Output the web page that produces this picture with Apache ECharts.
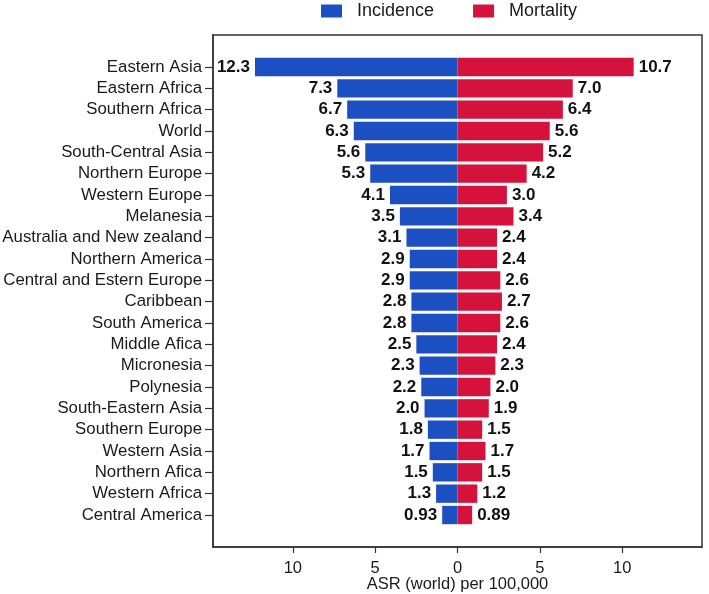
<!DOCTYPE html>
<html>
<head>
<meta charset="utf-8">
<script src="https://cdn.jsdelivr.net/npm/echarts@6/dist/echarts.min.js"></script>
<style>html,body{margin:0;padding:0;background:#fff;}#c{width:709px;height:594px;}</style>
</head>
<body>
<div id="c"></div>
<script>
const regions = ['Eastern Asia','Eastern Africa','Southern Africa','World','South-Central Asia','Northern Europe','Western Europe','Melanesia','Australia and New zealand','Northern America','Central and Estern Europe','Caribbean','South America','Middle Afica','Micronesia','Polynesia','South-Eastern Asia','Southern Europe','Western Asia','Northern Afica','Western Africa','Central America'];
const incidence = [12.3,7.3,6.7,6.3,5.6,5.3,4.1,3.5,3.1,2.9,2.9,2.8,2.8,2.5,2.3,2.2,2.0,1.8,1.7,1.5,1.3,0.93];
const mortality = [10.7,7.0,6.4,5.6,5.2,4.2,3.0,3.4,2.4,2.4,2.6,2.7,2.6,2.4,2.3,2.0,1.9,1.5,1.7,1.5,1.2,0.89];
const xTicks = [-10,-5,0,5,10];

const font = 'Liberation Sans, Arial, Helvetica, sans-serif';
const cats = [''].concat(regions, ['']);
const incData = [null].concat(incidence.map(v => -v), [null]);
const morData = [null].concat(mortality, [null]);
const fmt = v => { const a = Math.abs(v); return a < 1 ? a.toFixed(2) : a.toFixed(1); };

const chart = echarts.init(document.getElementById('c'));
chart.setOption({
  animation: false,
  textStyle: { fontFamily: font },
  legend: {
    left: 321, top: 2, padding: 0, itemWidth: 21, itemHeight: 13, itemGap: 39,
    icon: 'rect',
    textStyle: { fontSize: 18, color: '#1a1a1a', fontFamily: font, padding: [0,0,0,10] },
    data: ['Incidence','Mortality']
  },
  grid: { left: 213, right: 7, top: 35, bottom: 47, show: true, borderColor: '#333', borderWidth: 1.5, backgroundColor: '#fff', outerBoundsMode: 'none', containLabel: false },
  xAxis: {
    type: 'value', min: -14.85, max: 14.85,
    name: 'ASR (world) per 100,000', nameLocation: 'middle', nameGap: 29, nameMoveOverlap: false,
    nameTextStyle: { fontSize: 16.5, color: '#1a1a1a', fontFamily: font },
    splitLine: { show: false },
    axisLine: { show: true, onZero: false, lineStyle: { color: '#333', width: 1.5 } },
    axisTick: { show: true, length: 6, lineStyle: { color: '#333', width: 1.2 }, customValues: xTicks },
    axisLabel: { fontSize: 16.5, color: '#1a1a1a', margin: 13, customValues: xTicks, formatter: v => String(Math.abs(v)) }
  },
  yAxis: {
    type: 'category', inverse: true, data: cats,
    axisLine: { show: true, onZero: false, lineStyle: { color: '#333', width: 1.5 } },
    axisTick: { show: true, alignWithLabel: true, length: 8, lineStyle: { color: '#333', width: 1.2 }, interval: (i, v) => v !== '' },
    axisLabel: { interval: 0, fontSize: 16.8, color: '#1a1a1a', margin: 11 }
  },
  series: [
    {
      name: 'Incidence', type: 'bar', stack: 'a', data: incData, barCategoryGap: '14%',
      itemStyle: { color: '#1b4fc2' },
      label: { show: true, position: 'left', distance: 5, fontSize: 17, fontWeight: 'bold', color: '#111', fontFamily: font, formatter: p => fmt(p.value) }
    },
    {
      name: 'Mortality', type: 'bar', stack: 'a', data: morData, barCategoryGap: '14%',
      itemStyle: { color: '#d4123c' },
      label: { show: true, position: 'right', distance: 5, fontSize: 17, fontWeight: 'bold', color: '#111', fontFamily: font, formatter: p => fmt(p.value) }
    }
  ]
});
</script>
</body>
</html>
